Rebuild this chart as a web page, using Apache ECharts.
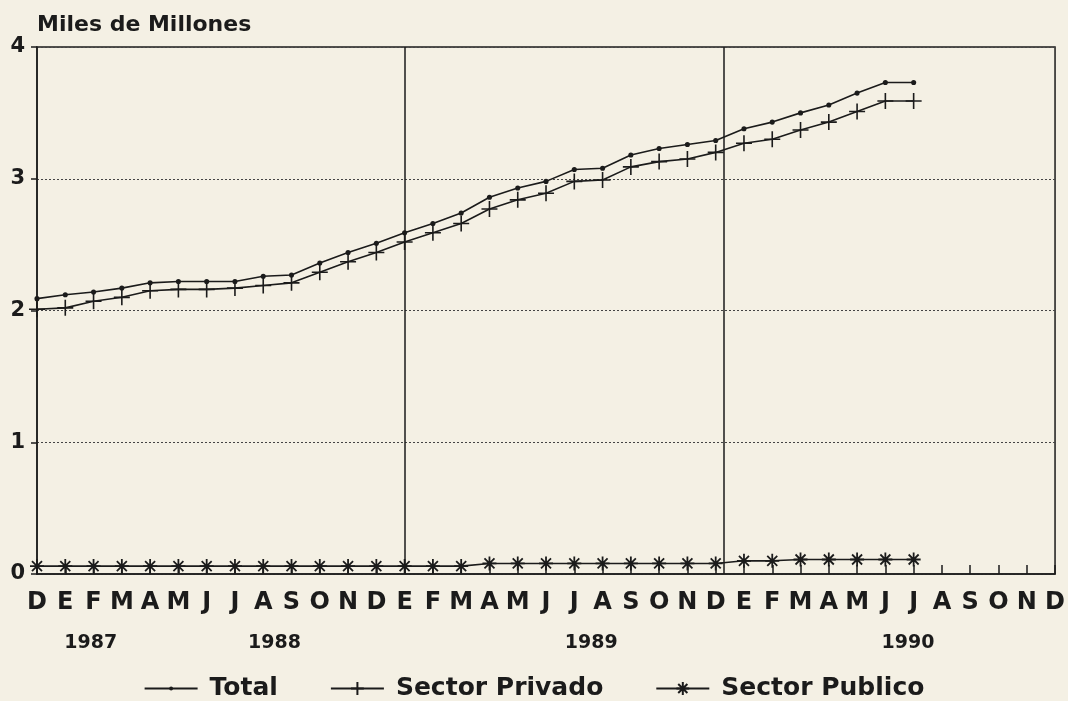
<!DOCTYPE html>
<html><head><meta charset="utf-8">
<script src="https://cdn.jsdelivr.net/npm/echarts@6/dist/echarts.min.js"></script>
<style>html,body{margin:0;padding:0;background:#f4f0e4}#c{width:1068px;height:701px}</style>
</head><body><div id="c"></div>
<script>
// ---- data ----
const monthLabels = ['D','E','F','M','A','M','J','J','A','S','O','N','D','E','F','M','A','M','J','J','A','S','O','N','D','E','F','M','A','M','J','J','A','S','O','N','D'];
const yearLabels = ['1987','1988','1989','1990'];
const seriesNames = ['Total','Sector Privado','Sector Publico'];
const yAxisTitle = 'Miles de Millones';
const yTickLabels = ['0','1','2','3','4'];
const totalValues = [2.09,2.12,2.14,2.17,2.21,2.22,2.22,2.22,2.26,2.27,2.36,2.44,2.51,2.59,2.66,2.74,2.86,2.93,2.98,3.07,3.08,3.18,3.23,3.26,3.29,3.38,3.43,3.50,3.56,3.65,3.73,3.73];
const privadoValues = [2.01,2.02,2.07,2.10,2.15,2.16,2.16,2.17,2.19,2.21,2.29,2.37,2.44,2.52,2.59,2.66,2.77,2.84,2.89,2.98,2.99,3.09,3.13,3.15,3.20,3.27,3.30,3.37,3.43,3.51,3.59,3.59];
const publicoValues = [0.06,0.06,0.06,0.06,0.06,0.06,0.06,0.06,0.06,0.06,0.06,0.06,0.06,0.06,0.06,0.06,0.08,0.08,0.08,0.08,0.08,0.08,0.08,0.08,0.08,0.10,0.10,0.11,0.11,0.11,0.11,0.11];

// ---- layout constants (axis units) ----
const yearLabelPos = [1.9, 8.4, 19.6, 30.8];
const dividerPos = [13, 24.3];

const INK = '#1b1b1b';
const FONT = 'DejaVu Sans';
// small dot centred in a larger (invisible) box so the legend dot stays small
const dotSym = 'path://M0,0L0,0M20,20L20,20M7,10a3,3 0 1,0 6,0a3,3 0 1,0 -6,0Z';
const plusSym = 'path://M8,0L8,16M0,8L16,8';
const starSym = 'path://M7,0L7,14M0,7L14,7M2,2L12,12M12,2L2,12';

const chart = echarts.init(document.getElementById('c'), null, {renderer:'canvas'});
chart.setOption({
  animation: false,
  backgroundColor: '#f4f0e4',
  textStyle: {fontFamily: FONT, color: INK},
  title: {
    text: yAxisTitle, left: 32, top: 9,
    textStyle: {fontFamily: FONT, fontSize: 22, fontWeight: 'bold', color: INK}
  },
  grid: {left: 37, right: 12, top: 47, bottom: 127, show: true, borderColor: INK, borderWidth: 1.5, backgroundColor: 'transparent'},
  legend: {
    data: seriesNames, left: 'center', top: 671,
    itemWidth: 53, itemHeight: 16, itemGap: 52,
    textStyle: {fontFamily: FONT, fontSize: 25, fontWeight: 'bold', color: INK, padding: [0,0,0,7]}
  },
  xAxis: [{
    type: 'category', data: monthLabels, boundaryGap: false,
    axisLine: {lineStyle: {color: INK, width: 1.5}},
    axisTick: {inside: true, length: 9, interval: 0, lineStyle: {color: INK, width: 1.5}},
    axisLabel: {interval: 0, margin: 17, fontSize: 24, fontWeight: 'bold', color: INK, fontFamily: FONT},
    splitLine: {show: false}
  }, {
    type: 'value', min: 0, max: 36, position: 'bottom',
    axisLine: {show: false}, axisTick: {show: false}, splitLine: {show: false},
    axisLabel: {
      customValues: yearLabelPos, margin: 60, fontSize: 19, fontWeight: 'bold', color: INK, fontFamily: FONT,
      formatter: function (v) { const i = yearLabelPos.indexOf(v); return i >= 0 ? yearLabels[i] : ''; }
    }
  }],
  yAxis: {
    type: 'value', min: 0, max: 4, interval: 1,
    axisLine: {show: true, lineStyle: {color: INK, width: 1.5}},
    axisTick: {show: true, length: 6, lineStyle: {color: INK, width: 1.5}},
    axisLabel: {margin: 12, fontSize: 21, fontWeight: 'bold', color: INK, fontFamily: FONT,
      formatter: function (v) { return yTickLabels[v]; }},
    splitLine: {show: true, lineStyle: {color: '#444', width: 1, type: [2, 2]}}
  },
  series: [{
    name: seriesNames[0], type: 'line', data: totalValues,
    symbol: dotSym, symbolSize: 17, showSymbol: true,
    lineStyle: {color: INK, width: 1.6}, itemStyle: {color: INK, borderWidth: 0}
  }, {
    name: seriesNames[1], type: 'line', data: privadoValues,
    symbol: plusSym, symbolSize: 16, showSymbol: true,
    lineStyle: {color: INK, width: 1.6},
    itemStyle: {color: INK, borderColor: INK, borderWidth: 1.6}
  }, {
    name: seriesNames[2], type: 'line', data: publicoValues,
    symbol: starSym, symbolSize: 14, showSymbol: true,
    lineStyle: {color: INK, width: 1.6},
    itemStyle: {color: INK, borderColor: INK, borderWidth: 1.8}
  }, {
    name: 'dividers', type: 'line', xAxisIndex: 1, data: [],
    silent: true,
    markLine: {
      silent: true, symbol: ['none','none'], label: {show: false},
      lineStyle: {color: INK, width: 1.5, type: 'solid'},
      data: dividerPos.map(function (p) { return {xAxis: p}; })
    }
  }]
});
</script></body></html>
